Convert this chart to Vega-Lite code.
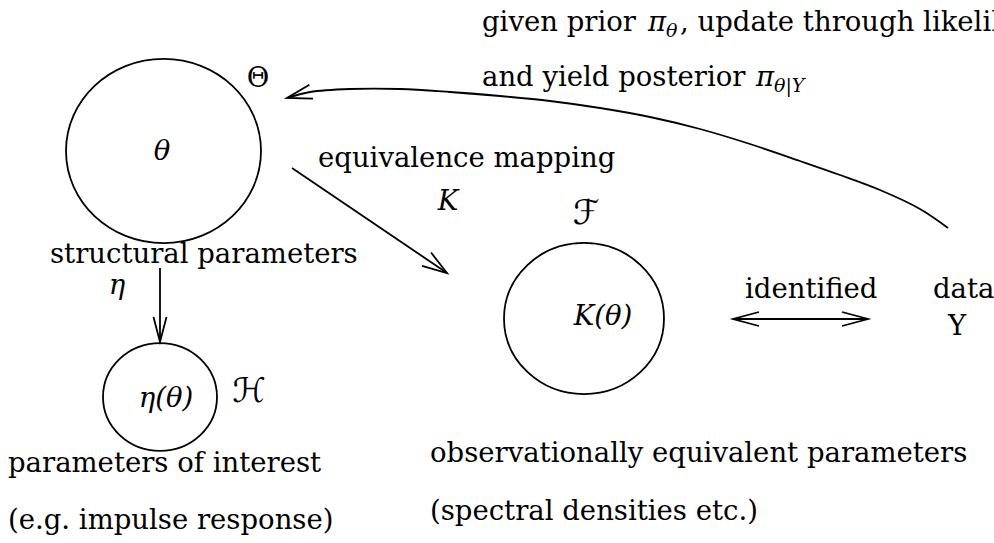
{
  "$schema": "https://vega.github.io/schema/vega-lite/v6.json",
  "width": 994,
  "height": 543,
  "autosize": {"type": "none"},
  "padding": 0,
  "background": "white",
  "config": {"view": {"stroke": null}},
  "datasets": {
    "sets": [
      {"set": "Theta", "cx": 163.5, "cy": 151, "r": 97.5},
      {"set": "F", "cx": 584, "cy": 318.5, "r": 80},
      {"set": "H", "cx": 160, "cy": 397, "r": 57}
    ],
    "segments": [
      {"id": "map", "seq": 1, "x": 292, "y": 168},
      {"id": "map", "seq": 2, "x": 447, "y": 273},
      {"id": "map_head", "seq": 1, "x": 431, "y": 252.5},
      {"id": "map_head", "seq": 2, "x": 447, "y": 273},
      {"id": "map_head", "seq": 3, "x": 422, "y": 265.8},
      {"id": "eta", "seq": 1, "x": 160, "y": 268},
      {"id": "eta", "seq": 2, "x": 160, "y": 342},
      {"id": "eta_head", "seq": 1, "x": 153.5, "y": 317},
      {"id": "eta_head", "seq": 2, "x": 160, "y": 342},
      {"id": "eta_head", "seq": 3, "x": 166.5, "y": 317},
      {"id": "ident", "seq": 1, "x": 733, "y": 319},
      {"id": "ident", "seq": 2, "x": 868, "y": 319},
      {"id": "ident_left", "seq": 1, "x": 759, "y": 312},
      {"id": "ident_left", "seq": 2, "x": 733, "y": 319},
      {"id": "ident_left", "seq": 3, "x": 759, "y": 326},
      {"id": "ident_right", "seq": 1, "x": 842, "y": 312},
      {"id": "ident_right", "seq": 2, "x": 868, "y": 319},
      {"id": "ident_right", "seq": 3, "x": 842, "y": 326},
      {"id": "post_head", "seq": 1, "x": 309.4, "y": 84.8},
      {"id": "post_head", "seq": 2, "x": 287, "y": 98},
      {"id": "post_head", "seq": 3, "x": 313, "y": 98.6}
    ],
    "curve": [
      {"seq": 1, "x": 948, "y": 228},
      {"seq": 2, "x": 920, "y": 209},
      {"seq": 3, "x": 880, "y": 190},
      {"seq": 4, "x": 840, "y": 175},
      {"seq": 5, "x": 800, "y": 161},
      {"seq": 6, "x": 750, "y": 144},
      {"seq": 7, "x": 700, "y": 129},
      {"seq": 8, "x": 650, "y": 117},
      {"seq": 9, "x": 600, "y": 108},
      {"seq": 10, "x": 550, "y": 101},
      {"seq": 11, "x": 500, "y": 96},
      {"seq": 12, "x": 450, "y": 92},
      {"seq": 13, "x": 400, "y": 89},
      {"seq": 14, "x": 350, "y": 89},
      {"seq": 15, "x": 310, "y": 92},
      {"seq": 16, "x": 287, "y": 98}
    ],
    "words": [
      {"t": "given prior", "x": 482, "y": 31},
      {"t": ", update through likelihood", "x": 680, "y": 31},
      {"t": "and yield posterior", "x": 482, "y": 86},
      {"t": "equivalence mapping", "x": 318, "y": 167},
      {"t": "structural parameters", "x": 50, "y": 263},
      {"t": "identified", "x": 745, "y": 298},
      {"t": "data", "x": 933, "y": 298},
      {"t": "observationally equivalent parameters", "x": 430, "y": 462},
      {"t": "(spectral densities etc.)", "x": 430, "y": 520},
      {"t": "parameters of interest", "x": 8, "y": 472},
      {"t": "(e.g. impulse response)", "x": 8, "y": 529}
    ],
    "pis": [
      {"t": "π", "x": 648, "y": 31},
      {"t": "π", "x": 756, "y": 86}
    ],
    "subs": [
      {"t": "θ", "x": 666, "y": 37},
      {"t": "θ|Y", "x": 774, "y": 92}
    ],
    "math": [
      {"t": "θ", "x": 162, "y": 160},
      {"t": "K", "x": 448, "y": 210},
      {"t": "K(θ)", "x": 603, "y": 325},
      {"t": "η", "x": 117, "y": 294},
      {"t": "η(θ)", "x": 166, "y": 407}
    ],
    "upright": [
      {"t": "Θ", "x": 258, "y": 87},
      {"t": "Y", "x": 957, "y": 335}
    ],
    "script": [
      {"t": "ℱ", "x": 586, "y": 224},
      {"t": "ℋ", "x": 249, "y": 402}
    ]
  },
  "layer": [
    {
      "data": {"name": "sets"},
      "mark": {
        "type": "point",
        "shape": "M 1 0 C 1 0.5219 0.5523 0.945 0 0.945 C -0.5523 0.945 -1 0.5219 -1 0 C -1 -0.5219 -0.5523 -0.945 0 -0.945 C 0.5523 -0.945 1 -0.5219 1 0 Z",
        "filled": false,
        "color": "black",
        "strokeWidth": 1.8,
        "opacity": 1
      },
      "encoding": {
        "x": {"field": "cx", "type": "quantitative", "scale": {"domain": [0, 994], "nice": false, "zero": false}, "axis": null},
        "y": {"field": "cy", "type": "quantitative", "scale": {"domain": [543, 0], "nice": false, "zero": false}, "axis": null},
        "size": {"field": "r", "type": "quantitative", "scale": {"type": "pow", "exponent": 2, "domain": [0, 100], "range": [0, 40000]}, "legend": null}
      }
    },
    {
      "data": {"name": "segments"},
      "mark": {"type": "line", "color": "black", "strokeWidth": 1.8, "strokeJoin": "miter"},
      "encoding": {
        "x": {"field": "x", "type": "quantitative", "scale": {"domain": [0, 994], "nice": false, "zero": false}, "axis": null},
        "y": {"field": "y", "type": "quantitative", "scale": {"domain": [543, 0], "nice": false, "zero": false}, "axis": null},
        "detail": {"field": "id", "type": "nominal"},
        "order": {"field": "seq", "type": "quantitative"}
      }
    },
    {
      "data": {"name": "curve"},
      "mark": {"type": "line", "color": "black", "strokeWidth": 1.8, "interpolate": "catmull-rom"},
      "encoding": {
        "x": {"field": "x", "type": "quantitative", "scale": {"domain": [0, 994], "nice": false, "zero": false}, "axis": null},
        "y": {"field": "y", "type": "quantitative", "scale": {"domain": [543, 0], "nice": false, "zero": false}, "axis": null},
        "order": {"field": "seq", "type": "quantitative"}
      }
    },
    {
      "data": {"name": "words"},
      "mark": {"type": "text", "font": "DejaVu Serif", "fontSize": 27.5, "align": "left", "baseline": "alphabetic", "color": "black"},
      "encoding": {
        "x": {"field": "x", "type": "quantitative", "scale": {"domain": [0, 994], "nice": false, "zero": false}, "axis": null},
        "y": {"field": "y", "type": "quantitative", "scale": {"domain": [543, 0], "nice": false, "zero": false}, "axis": null},
        "text": {"field": "t", "type": "nominal"}
      }
    },
    {
      "data": {"name": "pis"},
      "mark": {"type": "text", "font": "DejaVu Serif", "fontStyle": "italic", "fontSize": 27.5, "align": "left", "baseline": "alphabetic", "color": "black"},
      "encoding": {
        "x": {"field": "x", "type": "quantitative", "scale": {"domain": [0, 994], "nice": false, "zero": false}, "axis": null},
        "y": {"field": "y", "type": "quantitative", "scale": {"domain": [543, 0], "nice": false, "zero": false}, "axis": null},
        "text": {"field": "t", "type": "nominal"}
      }
    },
    {
      "data": {"name": "subs"},
      "mark": {"type": "text", "font": "DejaVu Serif", "fontStyle": "italic", "fontSize": 19, "align": "left", "baseline": "alphabetic", "color": "black"},
      "encoding": {
        "x": {"field": "x", "type": "quantitative", "scale": {"domain": [0, 994], "nice": false, "zero": false}, "axis": null},
        "y": {"field": "y", "type": "quantitative", "scale": {"domain": [543, 0], "nice": false, "zero": false}, "axis": null},
        "text": {"field": "t", "type": "nominal"}
      }
    },
    {
      "data": {"name": "math"},
      "mark": {"type": "text", "font": "DejaVu Serif", "fontStyle": "italic", "fontSize": 27.5, "align": "center", "baseline": "alphabetic", "color": "black"},
      "encoding": {
        "x": {"field": "x", "type": "quantitative", "scale": {"domain": [0, 994], "nice": false, "zero": false}, "axis": null},
        "y": {"field": "y", "type": "quantitative", "scale": {"domain": [543, 0], "nice": false, "zero": false}, "axis": null},
        "text": {"field": "t", "type": "nominal"}
      }
    },
    {
      "data": {"name": "upright"},
      "mark": {"type": "text", "font": "DejaVu Serif", "fontSize": 27.5, "align": "center", "baseline": "alphabetic", "color": "black"},
      "encoding": {
        "x": {"field": "x", "type": "quantitative", "scale": {"domain": [0, 994], "nice": false, "zero": false}, "axis": null},
        "y": {"field": "y", "type": "quantitative", "scale": {"domain": [543, 0], "nice": false, "zero": false}, "axis": null},
        "text": {"field": "t", "type": "nominal"}
      }
    },
    {
      "data": {"name": "script"},
      "mark": {"type": "text", "font": "DejaVu Sans", "fontSize": 34, "align": "center", "baseline": "alphabetic", "color": "black"},
      "encoding": {
        "x": {"field": "x", "type": "quantitative", "scale": {"domain": [0, 994], "nice": false, "zero": false}, "axis": null},
        "y": {"field": "y", "type": "quantitative", "scale": {"domain": [543, 0], "nice": false, "zero": false}, "axis": null},
        "text": {"field": "t", "type": "nominal"}
      }
    }
  ]
}
